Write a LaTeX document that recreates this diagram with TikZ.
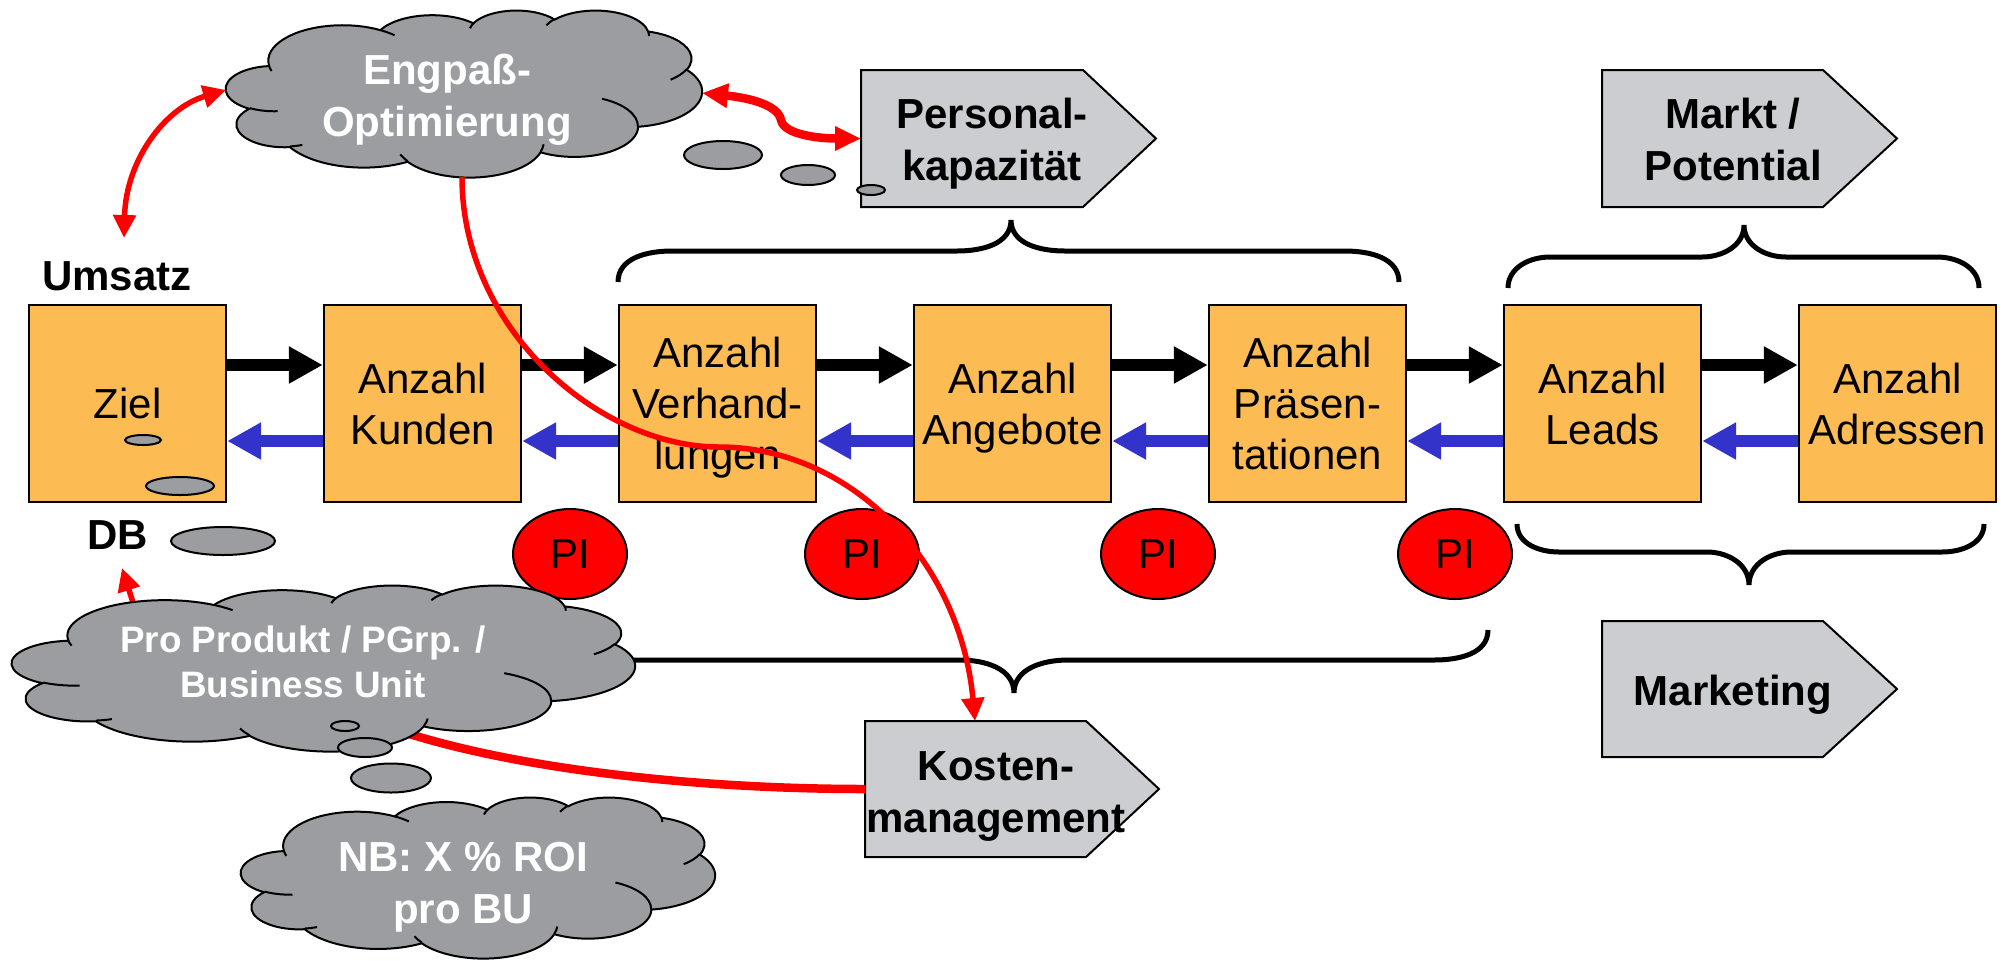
\documentclass[tikz,border=0pt]{standalone}
\usepackage{fontspec}
\setmainfont{Liberation Sans}
\usetikzlibrary{arrows.meta,shapes.geometric}

\definecolor{boxorange}{RGB}{252,187,83}
\definecolor{cloudgray}{RGB}{156,157,161}
\definecolor{siggray}{RGB}{204,205,208}
\definecolor{backblue}{RGB}{51,51,204}

% parametric start/end angles of one cloud arc (radii, visual start angle, sweep)
\newcommand\cldang[5]{%
  \pgfmathsetmacro\cldtmpa{atan2((#2)*sin(#4),(#3)*cos(#4))}%
  \pgfmathsetmacro\cldtmpb{atan2((#2)*sin((#4)+(#5)),(#3)*cos((#4)+(#5)))}%
  \pgfmathsetmacro\cldtmpb{(\cldtmpa)+mod((\cldtmpb)-(\cldtmpa)+720,360)}%
  \expandafter\let\csname cld#1s\endcsname\cldtmpa
  \expandafter\let\csname cld#1e\endcsname\cldtmpb}
% outline arcs
\cldang{A}{67.53}{91.90}{-190.48748}{123.78053}
\cldang{B}{53.33}{72.67}{-144.10238}{89.94523}
\cldang{C}{43.65}{59.45}{-145.80792}{99.72302}
\cldang{D}{48.57}{65.95}{-130.98607}{117.24173}
\cldang{E}{53.33}{72.73}{-78.70888}{109.02692}
\cldang{F}{67.75}{92.20}{-46.26725}{130.26900}
\cldang{G}{57.85}{78.67}{0.62502}{114.03333}
\cldang{H}{67.52}{92.15}{22.45160}{115.17255}
\cldang{I}{77.20}{105.43}{66.24263}{75.71102}
\cldang{J}{43.60}{59.18}{-274.94208}{146.73557}
\cldang{K}{43.45}{59.45}{-246.82850}{152.51885}
% inner puff strokes
\cldang{a}{43.45}{59.45}{86.74200}{26.42950}
\cldang{b}{43.60}{59.18}{73.61047}{11.44747}
\cldang{c}{67.52}{92.15}{137.62415}{14.08110}
\cldang{d}{67.52}{92.15}{6.45327}{15.99835}
\cldang{e}{57.85}{78.67}{-70.29235}{70.91737}
\cldang{f}{53.33}{72.73}{30.31803}{27.75150}
\cldang{g}{48.57}{65.95}{-13.74433}{14.85890}
\cldang{h}{48.57}{65.95}{-149.18145}{18.19537}
\cldang{i}{43.65}{59.45}{-163.49427}{17.68635}
\cldang{j}{67.53}{91.90}{-66.70695}{12.31935}
\cldang{k}{67.53}{91.90}{157.65435}{11.85817}

% cloud drawn into the box left #1, top #2, width #3, height #4
\newcommand\pptcloud[4]{%
  \pgfmathsetmacro\cldsx{#3/432}%
  \pgfmathsetmacro\cldsy{#4/432}%
  \begin{scope}[shift={(#1,#2)},xscale=\cldsx,yscale=\cldsy]
    \path[cloudbody] (39,143.7)
      arc[start angle=\cldAs,end angle=\cldAe,x radius=67.53,y radius=91.90]
      arc[start angle=\cldBs,end angle=\cldBe,x radius=53.33,y radius=72.67]
      arc[start angle=\cldCs,end angle=\cldCe,x radius=43.65,y radius=59.45]
      arc[start angle=\cldDs,end angle=\cldDe,x radius=48.57,y radius=65.95]
      arc[start angle=\cldEs,end angle=\cldEe,x radius=53.33,y radius=72.73]
      arc[start angle=\cldFs,end angle=\cldFe,x radius=67.75,y radius=92.20]
      arc[start angle=\cldGs,end angle=\cldGe,x radius=57.85,y radius=78.67]
      arc[start angle=\cldHs,end angle=\cldHe,x radius=67.52,y radius=92.15]
      arc[start angle=\cldIs,end angle=\cldIe,x radius=77.20,y radius=105.43]
      arc[start angle=\cldJs,end angle=\cldJe,x radius=43.60,y radius=59.18]
      arc[start angle=\cldKs,end angle=\cldKe,x radius=43.45,y radius=59.45]
      -- cycle;
    \path[cloudinner]
      (46.93,261.77) arc[start angle=\cldas,end angle=\cldae,x radius=43.45,y radius=59.45]
      (69.28,348.99) arc[start angle=\cldbs,end angle=\cldbe,x radius=43.60,y radius=59.18]
      (164.78,390.90) arc[start angle=\cldcs,end angle=\cldce,x radius=67.52,y radius=92.15]
      (288.27,347.51) arc[start angle=\cldds,end angle=\cldde,x radius=67.52,y radius=92.15]
      (341.29,229.54) arc[start angle=\cldes,end angle=\cldee,x radius=57.85,y radius=78.67]
      (417.98,153.54) arc[start angle=\cldfs,end angle=\cldfe,x radius=53.33,y radius=72.73]
      (383.24,54.26) arc[start angle=\cldgs,end angle=\cldge,x radius=48.57,y radius=65.95]
      (290.78,39.52) arc[start angle=\cldhs,end angle=\cldhe,x radius=48.57,y radius=65.95]
      (221.41,47.20) arc[start angle=\cldis,end angle=\cldie,x radius=43.65,y radius=59.45]
      (140.00,51.92) arc[start angle=\cldjs,end angle=\cldje,x radius=67.53,y radius=91.90]
      (41.27,157.89) arc[start angle=\cldks,end angle=\cldke,x radius=67.53,y radius=91.90];
  \end{scope}}

\begin{document}
\begin{tikzpicture}[x=0.5pt,y=-0.5pt,
  box/.style={draw,line width=1.2pt,fill=boxorange,minimum width=98.5pt,minimum height=98.5pt,
    inner sep=0pt,align=center,font=\fontsize{21}{25.5}\selectfont},
  fwd/.style={draw=black,line width=6pt,-{Triangle[length=17pt,width=17.5pt]}},
  bwd/.style={fwd,draw=backblue},
  pinode/.style={ellipse,draw,line width=1pt,fill=red,minimum width=57pt,minimum height=45pt,
    inner sep=0pt,font=\fontsize{21}{25.5}\selectfont},
  brace/.style={draw=black,line width=2.5pt},
  sig/.style={draw=black,line width=1pt,fill=siggray},
  sigtext/.style={align=center,inner sep=0pt,font=\bfseries\fontsize{21}{26}\selectfont},
  cloudbody/.style={draw=black,line width=1pt,fill=cloudgray},
  cloudinner/.style={draw=black,line width=1pt},
  cloudtext/.style={align=center,inner sep=0pt,text=white,font=\bfseries\fontsize{21}{26}\selectfont},
  smalltext/.style={cloudtext,font=\bfseries\fontsize{18.4}{22.5}\selectfont},
  bubble/.style={draw=black,line width=1pt,fill=cloudgray},
  lbl/.style={inner sep=0pt,font=\bfseries\fontsize{21}{25.5}\selectfont},
  redthin/.style={draw=red,line width=2.75pt},
  redthick/.style={draw=red,line width=4.25pt},
  rtip/.tip={Triangle[length=11.5pt,width=11pt]},
  rtipbig/.tip={Triangle[length=13pt,width=11.5pt]}]

\useasboundingbox (0,0) rectangle (2007,960);

% braces
\draw[brace] (539,630) to[out=-90,in=180] (593,660) -- (960,660) to[out=0,in=90] (1014,693)
  to[out=90,in=180] (1068,660) -- (1434,660) to[out=0,in=-90] (1488,630);
\draw[brace] (618,282) to[out=90,in=180] (672,251) -- (957,251) to[out=0,in=-90] (1011,220)
  to[out=-90,in=180] (1065,251) -- (1345,251) to[out=0,in=90] (1399,282);
\draw[brace] (1508,288) to[out=90,in=180] (1550,257) -- (1702,257) to[out=0,in=-90] (1744,225)
  to[out=-90,in=180] (1786,257) -- (1937,257) to[out=0,in=90] (1979,288);
\draw[brace] (1517,524) to[out=-90,in=180] (1559,552) -- (1707,552) to[out=0,in=90] (1749,585)
  to[out=90,in=180] (1791,552) -- (1942,552) to[out=0,in=-90] (1984,524);

% process chain
\node[box] (ziel)   at (127.5,403.5)  {Ziel};
\node[box] (kunden) at (422.5,403.5)  {Anzahl\\Kunden};
\node[box] (verh)   at (717.5,403.5)  {Anzahl\\Verhand-\\\smash{lungen}};
\node[box] (angeb)  at (1012.5,403.5) {Anzahl\\\smash{Angebote}};
\node[box] (praes)  at (1307.5,403.5) {Anzahl\\Präsen-\\tationen};
\node[box] (leads)  at (1602.5,403.5) {Anzahl\\Leads};
\node[box] (adr)    at (1897.5,403.5) {Anzahl\\Adressen};

\foreach \a/\b in {ziel/kunden,kunden/verh,verh/angeb,angeb/praes,praes/leads,leads/adr}{
  \draw[fwd] ([yshift=19.25pt]\a.east) -- ([yshift=19.25pt]\b.west);
  \draw[bwd] ([yshift=-18.75pt]\b.west) -- ([yshift=-18.75pt]\a.east);
}

\node[pinode] (pi1) at (570,554)  {PI};
\node[pinode] (pi2) at (862,554)  {PI};
\node[pinode] (pi3) at (1158,554) {PI};
\node[pinode] (pi4) at (1455,554) {PI};

% bubbles near the goal box
\draw[bubble] (143,440) ellipse [x radius=18,y radius=5];
\draw[bubble] (180,486) ellipse [x radius=34,y radius=9];
\draw[bubble] (223,541) ellipse [x radius=52,y radius=14];

\node[lbl] (umsatz) at (117,276) {Umsatz};
\node[lbl] (db) at (118,535) {DB};

% pointed labels
\draw[sig] (861,70) -- (1083,70) -- (1156,138.5) -- (1083,207) -- (861,207) -- cycle;
\node[sigtext] (pers) at (992,144) {Personal-\\kapazität};
\draw[sig] (1602,70) -- (1823,70) -- (1897,138.5) -- (1823,207) -- (1602,207) -- cycle;
\node[sigtext] (markt) at (1733,139) {Markt /\\Potential};
\draw[sig] (1602,621) -- (1823,621) -- (1897,689) -- (1823,757) -- (1602,757) -- cycle;
\node[sigtext] (mkt) at (1733,695) {Marketing};
\draw[sig] (865,721) -- (1086,721) -- (1159,789) -- (1086,857) -- (865,857) -- cycle;
\node[sigtext] (kosten) at (996,796) {Kosten-\\management};

\coordinate (pers-w) at (861,138.5);
\coordinate (kost-n) at (975,721);
\coordinate (kost-w) at (865,789);
\coordinate (pro-in) at (400,731);
\coordinate (pro-top) at (136,612);
\coordinate (db-s) at (122,568);
\coordinate (eng-w) at (226,90);
\coordinate (eng-e) at (702,93);
\coordinate (eng-s) at (462,177);
\coordinate (ums-n) at (124,238);

% links running under the clouds
\draw[redthick] (kost-w) .. controls (700,789) and (520,770) .. (pro-in);
\draw[redthin,-rtip] (pro-top) -- (db-s);

% clouds
\pptcloud{226}{10}{476}{167}
\pptcloud{12}{585}{623}{166}
\pptcloud{241}{797}{474}{161}

\draw[bubble] (723,155) ellipse [x radius=39,y radius=14];
\draw[bubble] (808,175) ellipse [x radius=27,y radius=10];
\draw[bubble] (871,190) ellipse [x radius=14,y radius=5];
\draw[bubble] (345,726) ellipse [x radius=14,y radius=5];
\draw[bubble] (365,747.5) ellipse [x radius=27,y radius=9.5];
\draw[bubble] (391,778) ellipse [x radius=40,y radius=14.5];

\node[cloudtext] (eng) at (447,100) {Engpaß-\\Optimierung};
\node[smalltext] (pro) at (303,662) {Pro Produkt / PGrp. /\\Business Unit};
\node[cloudtext] (nb) at (463,887) {NB: X \% ROI\\pro BU};

% red links
\draw[redthin,rtip-rtip] (ums-n) .. controls (126,160) and (165,108) .. (eng-w);
\draw[redthick,rtipbig-rtipbig] (eng-e) .. controls (750,98) and (778,105) .. (781,120)
  .. controls (784,135) and (820,138.5) .. (pers-w);
\draw[redthin,-rtip] (eng-s) .. controls (462,330) and (600,447) .. (719,447)
  .. controls (850,447) and (960,560) .. (kost-n);

\end{tikzpicture}
\end{document}
